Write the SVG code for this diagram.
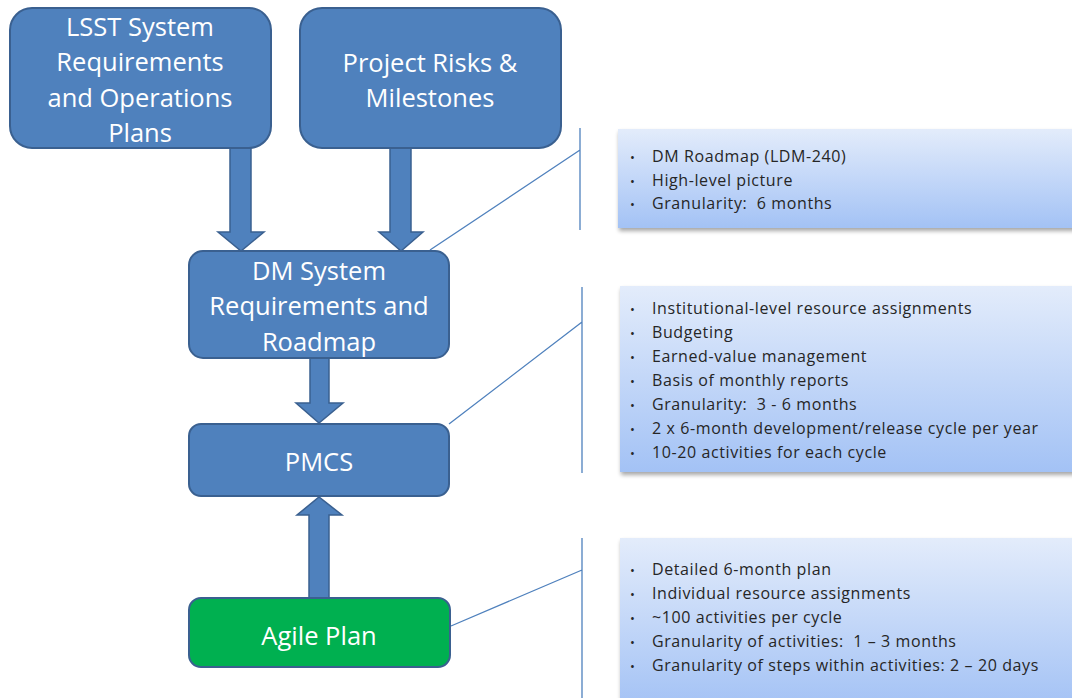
<svg xmlns="http://www.w3.org/2000/svg" width="1072" height="698" viewBox="0 0 1072 698" xml:space="preserve">
<defs>
<linearGradient id="g" x1="0" y1="0" x2="0" y2="1">
<stop offset="0" stop-color="#E3ECFB"/>
<stop offset="1" stop-color="#A3C2F5"/>
</linearGradient>
<filter id="sh" x="-5%" y="-10%" width="115%" height="130%">
<feGaussianBlur in="SourceAlpha" stdDeviation="2"/>
<feOffset dx="1" dy="3" result="b"/>
<feComponentTransfer><feFuncA type="linear" slope="0.35"/></feComponentTransfer>
<feMerge><feMergeNode/><feMergeNode in="SourceGraphic"/></feMerge>
</filter>
</defs>
<style>
.node{fill:#4F81BD;stroke:#3A6090;stroke-width:2}
.green{fill:#00B050;stroke:#3A6090;stroke-width:2}
.nt{font-family:"Open Sans","Liberation Sans",sans-serif;font-size:25.5px;fill:#FFFFFF;text-anchor:middle}
.arr{fill:#4F81BD;stroke:#3A6090;stroke-width:1.5}
.ln{fill:none;stroke:#4F81BD;stroke-width:1.3}
.box{fill:url(#g);filter:url(#sh)}
.ct{font-family:"Open Sans","Liberation Sans",sans-serif;font-size:16px;letter-spacing:0.6px;fill:#262626;white-space:pre}
.bu{font-family:"Open Sans","Liberation Sans",sans-serif;font-size:13px;fill:#262626}
</style>
<g id="connectors">
<path class="arr" d="M230,148 L251,148 L251,232 L264,232 L241,251 L218,232 L230,232 Z"/>
<path class="arr" d="M390,148 L411,148 L411,232 L423,232 L401,251 L379,232 L390,232 Z"/>
<path class="arr" d="M310,358 L329,358 L329,403 L343,403 L319,423 L296,403 L310,403 Z"/>
<path class="arr" d="M309,598 L329,598 L329,515 L342,515 L319,497 L297,515 L309,515 Z"/>
<path class="ln" d="M430,250 L580,150 M580,128 L580,230"/>
<path class="ln" d="M449,424 L582,322 M582,287 L582,473"/>
<path class="ln" d="M451,626 L582,570 M582,538 L582,698"/>
</g>
<g id="lsst">
<rect class="node" x="10" y="8" width="261" height="140" rx="22"/>
<text class="nt" x="140" y="36">LSST System</text>
<text class="nt" x="140" y="71">Requirements</text>
<text class="nt" x="140" y="107">and Operations</text>
<text class="nt" x="140" y="142">Plans</text>
</g>
<g id="risks">
<rect class="node" x="300" y="8" width="261" height="140" rx="22"/>
<text class="nt" x="430" y="72">Project Risks &amp;</text>
<text class="nt" x="430" y="107">Milestones</text>
</g>
<g id="dm">
<rect class="node" x="189" y="251" width="260" height="107" rx="14"/>
<text class="nt" x="319" y="280">DM System</text>
<text class="nt" x="319" y="315">Requirements and</text>
<text class="nt" x="319" y="351">Roadmap</text>
</g>
<g id="pmcs">
<rect class="node" x="189" y="424" width="260" height="72" rx="12"/>
<text class="nt" x="319" y="471">PMCS</text>
</g>
<g id="agile">
<rect class="green" x="189" y="598" width="261" height="69" rx="12"/>
<text class="nt" x="319" y="645">Agile Plan</text>
</g>
<g id="callout1">
<rect class="box" x="618" y="129" width="460" height="99"/>
<text class="bu" x="630" y="162">•</text><text class="ct" x="652" y="162">DM Roadmap (LDM-240)</text>
<text class="bu" x="630" y="186">•</text><text class="ct" x="652" y="186">High-level picture</text>
<text class="bu" x="630" y="209">•</text><text class="ct" x="652" y="209">Granularity:  6 months</text>
</g>
<g id="callout2">
<rect class="box" x="620" y="286" width="460" height="186"/>
<text class="bu" x="630" y="314">•</text><text class="ct" x="652" y="314">Institutional-level resource assignments</text>
<text class="bu" x="630" y="338">•</text><text class="ct" x="652" y="338">Budgeting</text>
<text class="bu" x="630" y="362">•</text><text class="ct" x="652" y="362">Earned-value management</text>
<text class="bu" x="630" y="386">•</text><text class="ct" x="652" y="386">Basis of monthly reports</text>
<text class="bu" x="630" y="410">•</text><text class="ct" x="652" y="410">Granularity:  3 - 6 months</text>
<text class="bu" x="630" y="434">•</text><text class="ct" x="652" y="434">2 x 6-month development/release cycle per year</text>
<text class="bu" x="630" y="458">•</text><text class="ct" x="652" y="458">10-20 activities for each cycle</text>
</g>
<g id="callout3">
<rect class="box" x="620" y="538" width="460" height="170"/>
<text class="bu" x="630" y="575">•</text><text class="ct" x="652" y="575">Detailed 6-month plan</text>
<text class="bu" x="630" y="599">•</text><text class="ct" x="652" y="599">Individual resource assignments</text>
<text class="bu" x="630" y="623">•</text><text class="ct" x="652" y="623">~100 activities per cycle</text>
<text class="bu" x="630" y="647">•</text><text class="ct" x="652" y="647">Granularity of activities:  1 – 3 months</text>
<text class="bu" x="630" y="671">•</text><text class="ct" x="652" y="671">Granularity of steps within activities: 2 – 20 days</text>
</g>
</svg>
